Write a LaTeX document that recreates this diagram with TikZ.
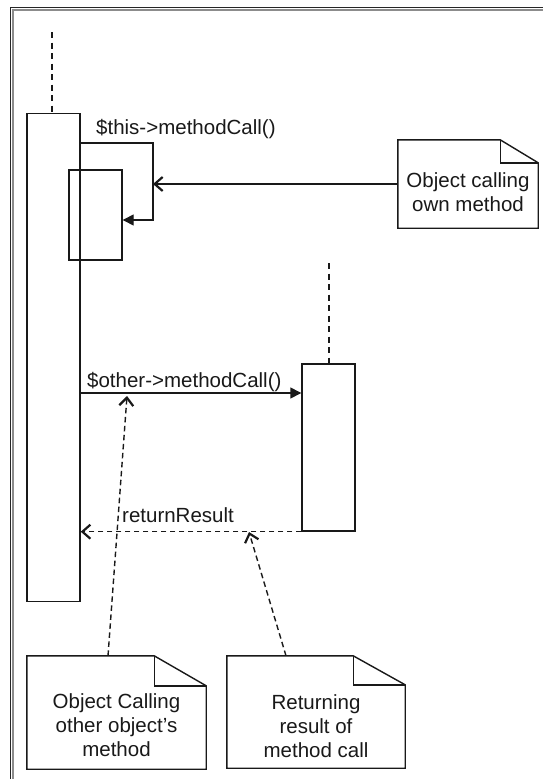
\documentclass[tikz,border=0pt]{standalone}
\usepackage{fontspec}
\setmainfont{Liberation Sans}
\usetikzlibrary{arrows.meta}
\begin{document}
\begin{tikzpicture}[x=1pt,y=-1pt,
  ln/.style={line width=1.4pt, draw=black!90},
  act/.style={ln, rectangle, inner sep=0pt},
  life/.style={ln, dash pattern=on 6pt off 4.5pt},
  msg/.style={ln, -{Triangle[length=11pt,width=11pt]}},
  barb/.style={ln, -{Straight Barb[length=8pt,width=14pt,line width=2.2pt]}},
  dbarb/.style={barb, dash pattern=on 5.5pt off 3.5pt},
  txt/.style={inner sep=0pt, font=\fontsize{20.5}{24}\selectfont, text=black!90},
  ntxt/.style={txt, align=center},
  notebox/.style={rectangle, inner sep=0pt}
]
\useasboundingbox (0,0) rectangle (543,779);
% frame
\draw[line width=1.6pt, black!85] (10.5,779) -- (10.5,7.5) -- (543,7.5);
\draw[line width=1.4pt, black!45] (12.8,779) -- (12.8,9.8) -- (543,9.8);

% activation boxes
\node[act, minimum width=53pt, minimum height=488pt] (act1) at (53.5,357.5) {};
\node[act, minimum width=53pt, minimum height=90pt] (act1b) at (95.5,215) {};
\node[act, minimum width=53pt, minimum height=167pt] (act2) at (328.5,447.5) {};

% lifelines
\coordinate (top1) at (52,32);
\coordinate (top2) at (329,263);
\draw[life] (top1) -- (top1 |- act1.north);
\draw[life] (top2) -- (top2 |- act2.north);

% notes
\node[notebox, minimum width=140pt, minimum height=88pt,
  label={[ntxt,yshift=-8pt]center:{Object calling\\own method}}] (n1) at (468,184) {};
\node[notebox, minimum width=179pt, minimum height=113pt,
  label={[ntxt,yshift=-13pt]center:{Object Calling\\other object's\\method}}] (n2) at (116.5,712.5) {};
\node[notebox, minimum width=178pt, minimum height=112pt,
  label={[ntxt,yshift=-14pt]center:{Returning\\result of\\method call}}] (n3) at (316,712) {};
\foreach \n/\fw/\fh in {n1/38/23, n2/52/30, n3/52/29}{
  \draw[ln, line join=miter] (\n.south west) -- (\n.north west) -- ([xshift=-\fw pt]\n.north east)
     -- ([yshift=-\fh pt]\n.north east) -- (\n.south east) -- cycle;
  \draw[ln] ([xshift=-\fw pt]\n.north east) |- ([yshift=-\fh pt]\n.north east);
}

% self call
\coordinate (s0) at (80,143);
\coordinate (s1) at (153,143);
\coordinate (s2) at (153,220);
\draw[msg] (s0 -| act1.east) -- (s1) -- (s2) -- (s2 -| act1b.east);
\node[txt, anchor=base west] (lbl1) at (96,134) {\$this->methodCall()};
\draw[barb] (n1.west) -- (n1.west -| s1);

% other call
\coordinate (o1) at (80,393);
\draw[msg] (o1 -| act1.east) -- (o1 -| act2.west);
\node[txt, anchor=base west] (lbl2) at (87,387) {\$other->methodCall()};

% return
\draw[dbarb] (act2.south west) -- (act2.south west -| act1.east);
\node[txt, anchor=base west] (lbl3) at (122,522) {returnResult};

% note arrows
\coordinate (t2) at (127,396);
\coordinate (t3) at (249,532);
\draw[dbarb] ([xshift=-8.5pt]n2.north) -- (t2);
\draw[dbarb] ([xshift=-30pt]n3.north) -- (t3);
\end{tikzpicture}
\end{document}
